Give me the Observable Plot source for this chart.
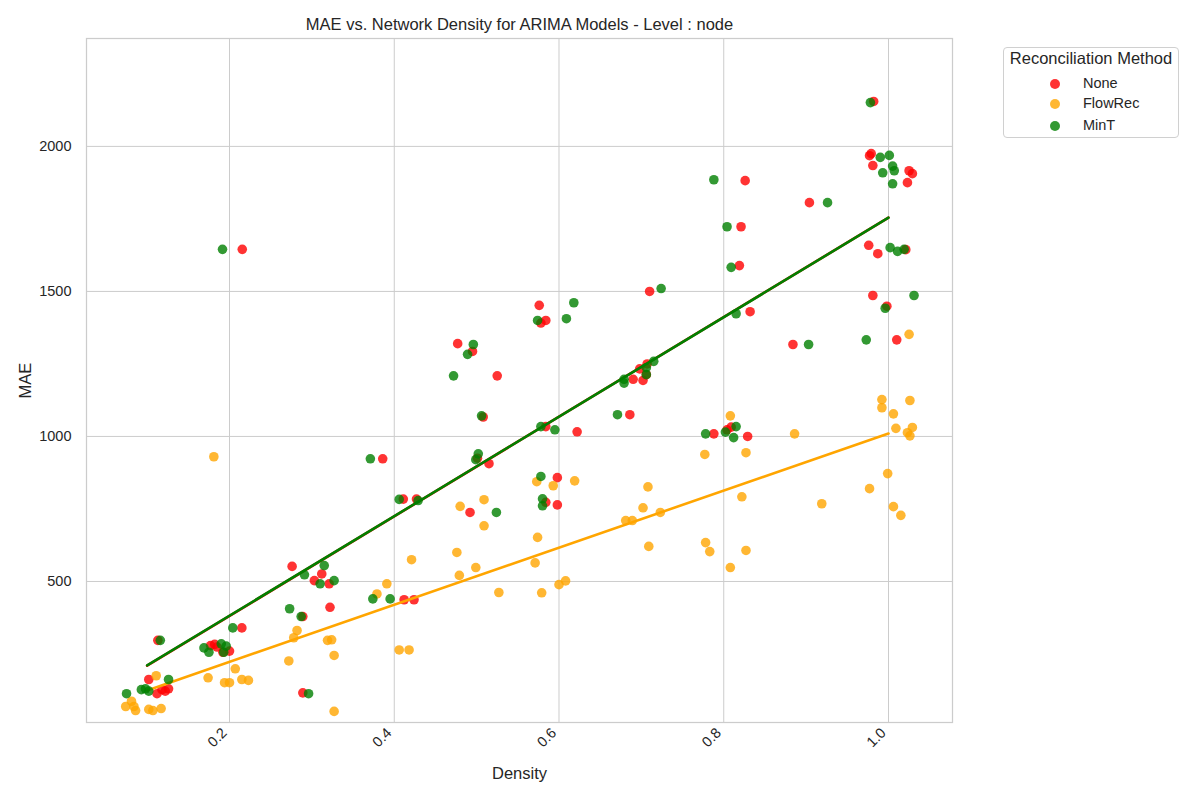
<!DOCTYPE html>
<html>
<head>
<meta charset="utf-8">
<script src="https://cdn.jsdelivr.net/npm/d3@7"></script>
<script src="https://cdn.jsdelivr.net/npm/@observablehq/plot@0.6"></script>
<style>
  body { margin: 0; background: #fff; font-family: "Liberation Sans", Arial, sans-serif; }
  #wrap { position: relative; width: 1200px; height: 800px; }
  #legend { position: absolute; left: 1003px; top: 47px; width: 176px; height: 91px; box-sizing: border-box;
            border: 1px solid #d0d0d0; border-radius: 4px; background: #fff; color: #262626; }
  #legend .ttl { position: absolute; left: 0; width: 100%; top: 1px; text-align: center; font-size: 16.5px; }
  #legend .row { position: absolute; left: 0; height: 16px; font-size: 14.5px; }
  #legend .dot { position: absolute; left: 46px; top: 3px; width: 10px; height: 10px; border-radius: 50%; opacity: 0.8; }
  #legend .lab { position: absolute; left: 79px; top: -1px; white-space: nowrap; }
</style>
</head>
<body>
<div id="wrap"></div>
<script>
// ---- data ----
const titleText = "MAE vs. Network Density for ARIMA Models - Level : node";
const methods = ["None", "FlowRec", "MinT"];
const methodColors = ["red", "orange", "green"];
const xTicks = [0.2, 0.4, 0.6, 0.8, 1.0];
const yTicks = [500, 1000, 1500, 2000];

const noneDensity = [0.113,0.102,0.112,0.122,0.126,0.118, 0.2155,0.215,0.177,0.182,0.185,0.2,0.192, 0.276,0.312,0.303,0.321,0.322,0.289,0.289, 0.386,0.411,0.427,0.412,0.424, 0.477,0.495,0.525,0.508,0.515,0.492,0.501, 0.576,0.578,0.584,0.584,0.622,0.598,0.584,0.598, 0.71,0.698,0.707,0.69,0.702,0.686,0.706, 0.826,0.821,0.819,0.832,0.788,0.804,0.809,0.829, 0.904,0.884, 0.982,0.979,0.977,0.981,1.025,1.029,1.023,0.976,0.987,1.021,0.981,0.998,1.01];
const noneMAE = [297,162,113,122,130,127, 1645,340,279,283,274,260,256, 552,526,503,492,411,379,116, 923,784,784,437,437, 1320,1293,1209,1067,906,738,925, 1452,1391,1400,1034,1016,858,773,764, 1500,1233,1250,1197,1193,1075,1213, 1882,1723,1589,1430,1009,1023,1032,1000, 1806,1317, 2155,1975,1968,1934,1916,1906,1875,1659,1630,1644,1486,1449,1333];

const flowDensity = [0.111,0.074,0.081,0.084,0.086,0.102,0.107,0.117, 0.181,0.174,0.207,0.194,0.2,0.215,0.223, 0.282,0.278,0.272,0.319,0.324,0.327,0.327, 0.421,0.391,0.379,0.406,0.418, 0.48,0.509,0.509,0.476,0.479,0.499,0.527, 0.573,0.593,0.619,0.574,0.571,0.579,0.6,0.608, 0.708,0.702,0.723,0.681,0.689,0.709, 0.808,0.777,0.827,0.822,0.778,0.783,0.827,0.808, 0.886,0.919, 1.025,0.992,1.026,0.992,1.006,1.009,1.029,1.023,1.026,0.999,0.977,1.006,1.015];
const flowMAE = [175,69,87,69,55,59,55,62, 930,168,199,151,151,162,159, 331,306,226,297,299,245,52, 575,492,457,264,264, 759,782,692,600,521,548,462, 844,830,847,652,564,461,489,502, 826,754,738,710,710,621, 1071,938,944,792,634,603,607,548, 1009,768, 1352,1127,1124,1099,1078,1028,1031,1013,1002,872,820,758,728];

const mintDensity = [0.116,0.126,0.075,0.093,0.102,0.098, 0.1915,0.204,0.169,0.175,0.19,0.196,0.193, 0.291,0.315,0.31,0.327,0.273,0.287,0.296, 0.371,0.406,0.429,0.374,0.395, 0.496,0.489,0.472,0.506,0.502,0.499,0.524, 0.574,0.618,0.609,0.578,0.595,0.578,0.58,0.58, 0.724,0.715,0.706,0.706,0.679,0.679,0.671, 0.788,0.804,0.809,0.815,0.778,0.802,0.815,0.812, 0.926,0.903, 0.978,0.99,1.001,1.005,1.007,0.993,1.005,1.002,1.011,1.019,1.031,0.996,0.973];
const mintMAE = [297,162,113,127,122,130, 1645,340,271,256,285,277,256, 523,555,492,503,406,379,113, 923,783,779,440,440, 1317,1283,1209,1071,940,920,738, 1400,1461,1406,1034,1023,862,785,761, 1510,1259,1237,1213,1197,1184,1075, 1885,1723,1583,1423,1009,1015,1034,996, 1806,1317, 2151,1962,1969,1932,1916,1909,1871,1651,1638,1645,1486,1442,1333];

// ---- build tables ----
const series = [
  {name: methods[0], color: methodColors[0], rows: noneDensity.map((x, i) => ({x, y: noneMAE[i]}))},
  {name: methods[1], color: methodColors[1], rows: flowDensity.map((x, i) => ({x, y: flowMAE[i]}))},
  {name: methods[2], color: methodColors[2], rows: mintDensity.map((x, i) => ({x, y: mintMAE[i]}))}
];

const marks = [
  Plot.gridX(xTicks, {stroke: "#cccccc", strokeOpacity: 1, strokeWidth: 1}),
  Plot.gridY(yTicks, {stroke: "#cccccc", strokeOpacity: 1, strokeWidth: 1}),
  Plot.frame({stroke: "#cccccc", strokeWidth: 1.25}),
  Plot.axisX(xTicks, {tickSize: 0, tickPadding: 8, tickRotate: -45, dx: -5, tickFormat: d => d.toFixed(1), label: null, fontSize: 14.5, fill: "#262626"}),
  Plot.axisY(yTicks, {tickSize: 0, tickPadding: 15, tickFormat: d => String(d), label: null, fontSize: 14.5, fill: "#262626"})
];
for (const s of series) {
  marks.push(Plot.dot(s.rows, {x: "x", y: "y", r: 4.8, fill: s.color, fillOpacity: 0.8, stroke: "none"}));
  marks.push(Plot.linearRegressionY(s.rows, {x: d => Math.round(d.x * 10) / 10, y: "y", stroke: s.color, strokeWidth: 2.6, ci: 0}));
}
marks.push(
  Plot.text([titleText], {frameAnchor: "top", lineAnchor: "middle", dy: -14, fontSize: 16.5, fill: "#262626", text: d => d}),
  Plot.text(["Density"], {frameAnchor: "bottom", lineAnchor: "middle", dy: 51, fontSize: 16.5, fill: "#262626", text: d => d}),
  Plot.text(["MAE"], {frameAnchor: "left", lineAnchor: "middle", textAnchor: "middle", dx: -61, rotate: -90, fontSize: 16.5, fill: "#262626", text: d => d})
);

const chart = Plot.plot({
  width: 1200,
  height: 800,
  marginLeft: 86,
  marginRight: 248,
  marginTop: 38,
  marginBottom: 78,
  style: {fontFamily: "'Liberation Sans', Arial, sans-serif", background: "#fff", color: "#262626"},
  x: {domain: [0.0264, 1.0777]},
  y: {domain: [13.8, 2372]},
  marks
});

const wrap = document.getElementById("wrap");
wrap.appendChild(chart);

// legend
const lg = document.createElement("div");
lg.id = "legend";
let html = '<div class="ttl">Reconciliation Method</div>';
const rowTops = [28, 48, 70];
methods.forEach((m, i) => {
  html += `<div class="row" style="top:${rowTops[i]}px;width:100%"><span class="dot" style="background:${methodColors[i]}"></span><span class="lab">${m}</span></div>`;
});
lg.innerHTML = html;
wrap.appendChild(lg);
</script>
</body>
</html>
